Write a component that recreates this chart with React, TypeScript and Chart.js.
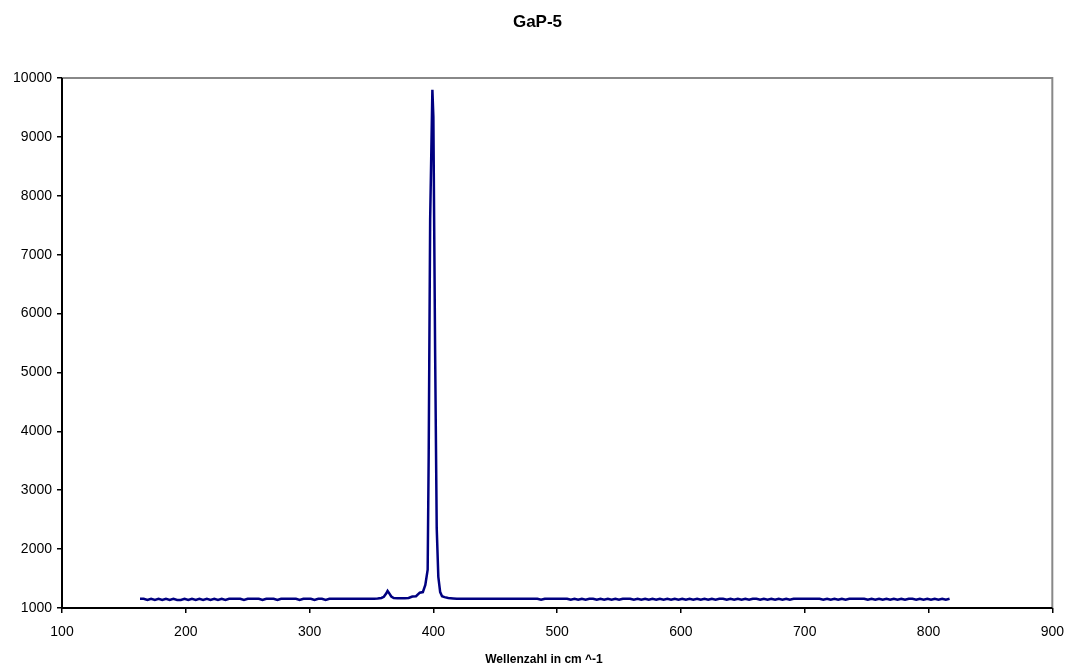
import React, { useEffect, useRef } from "react";
import { Chart, registerables } from "chart.js";

Chart.register(...registerables);

const chartTitle = "GaP-5";
const xAxisTitle = "Wellenzahl in cm ^-1";
const xRange = [100, 900];
const xStep = 100;
const yRange = [1000, 10000];
const yStep = 1000;

// [wavenumber (cm^-1), intensity]
const baselineLow: [number, number][] = [
  [163, 1155], [166, 1155], [169, 1135], [172, 1155], [175, 1135], [178, 1155],
  [181, 1135], [184, 1155], [187, 1135], [190, 1155], [193, 1135], [196, 1135],
  [199, 1155], [202, 1135], [205, 1155], [208, 1135], [211, 1155], [214, 1135],
  [217, 1155], [220, 1135], [223, 1155], [226, 1135], [229, 1155], [232, 1135],
  [235, 1155], [238, 1155], [241, 1155], [244, 1155], [247, 1135], [250, 1155],
  [253, 1155], [256, 1155], [259, 1155], [262, 1135], [265, 1155], [268, 1155],
  [271, 1155], [274, 1135], [277, 1155], [280, 1155], [283, 1155], [286, 1155],
  [289, 1155], [292, 1135], [295, 1155], [298, 1155], [301, 1155], [304, 1135],
  [307, 1155], [310, 1155], [313, 1135], [316, 1155], [319, 1155], [322, 1155],
  [325, 1155], [328, 1155], [331, 1155], [334, 1155], [337, 1155], [340, 1155],
  [343, 1155], [346, 1155], [349, 1155], [352, 1158],
];

const smallPeak: [number, number][] = [
  [355, 1160], [358, 1170], [360, 1190], [362, 1250], [363, 1290], [364, 1260],
  [366, 1195], [368, 1170], [371, 1165], [374, 1165], [377, 1165],
];

const mainPeak: [number, number][] = [
  [380, 1170], [383, 1195], [386, 1200], [389, 1260], [391.5, 1270], [393.5, 1390],
  [395.4, 1650], [396.2, 3550], [397.4, 7600], [399.2, 9800], [400.0, 9340],
  [401.4, 5380], [402.7, 2360], [404, 1530], [405.5, 1270], [407, 1200],
  [409, 1185], [412, 1170], [416, 1163], [419, 1158],
];

const baselineHigh: [number, number][] = [
  [421, 1158], [424, 1158], [427, 1158], [430, 1158], [433, 1158], [436, 1158],
  [439, 1158], [442, 1158], [445, 1158], [448, 1158], [451, 1158], [454, 1158],
  [457, 1158], [460, 1158], [463, 1158], [466, 1158], [469, 1158], [472, 1158],
  [475, 1158], [478, 1158], [481, 1158], [484, 1158], [487, 1140], [490, 1158],
  [493, 1158], [496, 1158], [499, 1158], [502, 1158], [505, 1158], [508, 1158],
  [511, 1140], [514, 1158], [517, 1140], [520, 1158], [523, 1140], [526, 1158],
  [529, 1158], [532, 1140], [535, 1158], [538, 1140], [541, 1158], [544, 1140],
  [547, 1158], [550, 1140], [553, 1158], [556, 1158], [559, 1158], [562, 1140],
  [565, 1158], [568, 1140], [571, 1158], [574, 1140], [577, 1158], [580, 1140],
  [583, 1158], [586, 1140], [589, 1158], [592, 1140], [595, 1158], [598, 1140],
  [601, 1158], [604, 1140], [607, 1158], [610, 1140], [613, 1158], [616, 1140],
  [619, 1158], [622, 1140], [625, 1158], [628, 1140], [631, 1158], [634, 1158],
  [637, 1140], [640, 1158], [643, 1140], [646, 1158], [649, 1140], [652, 1158],
  [655, 1140], [658, 1158], [661, 1158], [664, 1140], [667, 1158], [670, 1140],
  [673, 1158], [676, 1140], [679, 1158], [682, 1140], [685, 1158], [688, 1140],
  [691, 1158], [694, 1158], [697, 1158], [700, 1158], [703, 1158], [706, 1158],
  [709, 1158], [712, 1158], [715, 1140], [718, 1158], [721, 1140], [724, 1158],
  [727, 1140], [730, 1158], [733, 1140], [736, 1158], [739, 1158], [742, 1158],
  [745, 1158], [748, 1158], [751, 1140], [754, 1158], [757, 1140], [760, 1158],
  [763, 1140], [766, 1158], [769, 1140], [772, 1158], [775, 1140], [778, 1158],
  [781, 1140], [784, 1158], [787, 1158], [790, 1140], [793, 1158], [796, 1140],
  [799, 1158], [802, 1140], [805, 1158], [808, 1140], [811, 1158], [814, 1140],
  [817, 1158],
];

const FONT = "'Liberation Sans', Arial, sans-serif";

const framePlugin = {
  id: "frameAndTitles",
  afterDraw(chart: any) {
    const { ctx, chartArea } = chart;
    const { left, right, top, bottom } = chartArea;
    ctx.save();
    ctx.strokeStyle = "#888888";
    ctx.lineWidth = 2;
    ctx.beginPath();
    ctx.moveTo(left, top);
    ctx.lineTo(right, top);
    ctx.lineTo(right, bottom);
    ctx.stroke();
    ctx.strokeStyle = "#000000";
    ctx.beginPath();
    ctx.moveTo(left, top);
    ctx.lineTo(left, bottom);
    ctx.lineTo(right, bottom);
    ctx.stroke();
    ctx.fillStyle = "#000000";
    ctx.textAlign = "center";
    ctx.textBaseline = "middle";
    ctx.font = `bold 17px ${FONT}`;
    ctx.fillText(chartTitle, chart.width / 2, 22);
    ctx.font = `bold 12px ${FONT}`;
    ctx.fillText(xAxisTitle, 544, 660);
    ctx.restore();
  },
};

export default function App() {
  const canvasRef = useRef<HTMLCanvasElement | null>(null);

  useEffect(() => {
    if (!canvasRef.current) return;
    const points = [...baselineLow, ...smallPeak, ...mainPeak, ...baselineHigh].map(
      ([x, y]) => ({ x, y })
    );
    const chart = new Chart(canvasRef.current, {
      type: "line",
      data: {
        datasets: [
          {
            label: chartTitle,
            data: points,
            borderColor: "#000080",
            borderWidth: 2.5,
            pointRadius: 0,
            tension: 0,
            fill: false,
          },
        ],
      },
      options: {
        responsive: false,
        animation: false,
        layout: { padding: { top: 78, right: 22, left: 0, bottom: 0 } },
        plugins: {
          legend: { display: false },
          title: { display: false },
          tooltip: { enabled: false },
        },
        scales: {
          x: {
            type: "linear",
            min: xRange[0],
            max: xRange[1],
            ticks: {
              stepSize: xStep,
              color: "#000",
              padding: 11,
              font: { family: FONT, size: 14 },
              maxRotation: 0,
              callback: (v: any) => String(v),
            },
            grid: {
              drawOnChartArea: false,
              drawTicks: true,
              tickLength: 5,
              color: "#000",
              lineWidth: 1.5,
            },
            border: { display: false },
            afterFit: (scale: any) => {
              scale.height = 62;
            },
          },
          y: {
            type: "linear",
            min: yRange[0],
            max: yRange[1],
            ticks: {
              stepSize: yStep,
              color: "#000",
              padding: 5,
              font: { family: FONT, size: 14 },
              callback: (v: any) => String(v),
            },
            grid: {
              drawOnChartArea: false,
              drawTicks: true,
              tickLength: 5,
              color: "#000",
              lineWidth: 1.5,
            },
            border: { display: false },
            afterFit: (scale: any) => {
              scale.width = 62;
            },
          },
        },
      },
      plugins: [framePlugin],
    });
    return () => chart.destroy();
  }, []);

  return (
    <div style={{ position: "absolute", left: 0, top: 0, width: 1075, height: 670, background: "#fff" }}>
      <canvas ref={canvasRef} width={1075} height={670} />
    </div>
  );
}
